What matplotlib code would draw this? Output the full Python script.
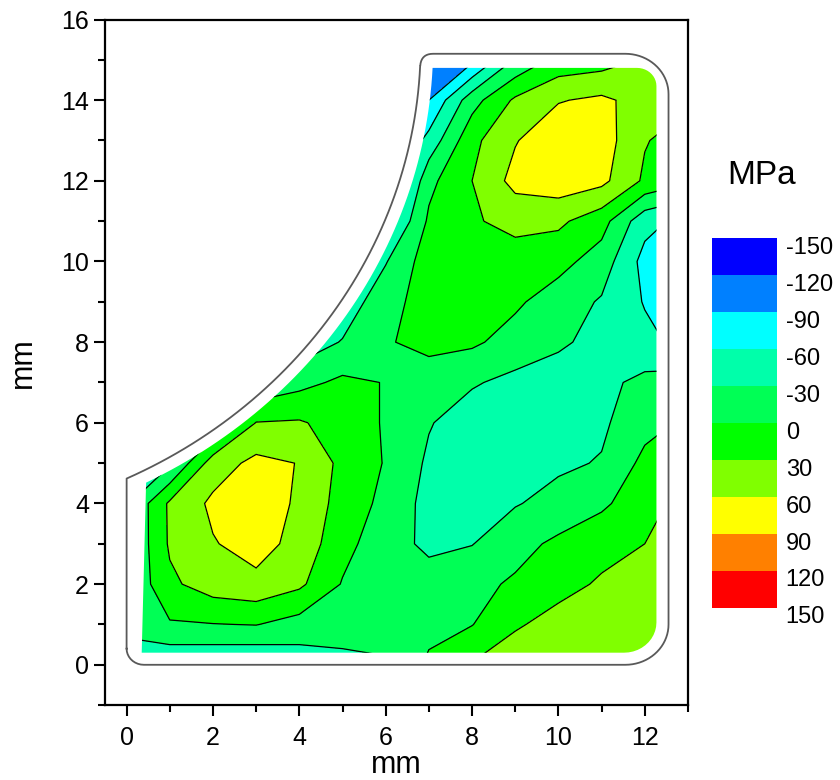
"""
Residual stress map of the fillet section, drawn as a filled contour plot.
"""

# Third party import
import numpy as np
import matplotlib
matplotlib.use("Agg")
import matplotlib.pyplot as plt
from matplotlib.patches import Polygon
from matplotlib.colors import ListedColormap, BoundaryNorm
from matplotlib.cm import ScalarMappable
from matplotlib.ticker import MultipleLocator
from matplotlib.transforms import ScaledTranslation


# Measurement grid (mm) and stress values (MPa), one row per y position
x_mm = np.arange(0, 14)
y_mm = np.arange(0, 16)
stress_y0 = [-50, -57, -59, -61, -48, -42, -34, 6, 32, 45, 48, 50, 52, 55]
stress_y1 = [-20, -3, -1, 1, -12, -12, -16, -10, -1, 27, 39, 45, 50, 55]
stress_y2 = [-30, 24, 45, 52, 36, -2, -16, -18, -8, 4, 22, 33, 45, 50]
stress_y3 = [-35, 34, 58, 72, 50, 10, -18, -36, -31, -10, 6, 22, 30, 45]
stress_y4 = [-35, 35, 66, 78, 55, 18, -8, -40, -42, -32, -20, -6, 20, 40]
stress_y5 = [-60, -35, 45, 68, 59, 22, -2, -35, -45, -45, -35, -28, 8, 25]
stress_y6 = [-80, -60, -30, 31, 33, 18, -3, -28, -45, -48, -44, -35, -10, 5]
stress_y7 = [-90, -80, -60, -25, -9, 6, -1, -18, -27, -38, -42, -38, -22, -12]
stress_y8 = [-100, -90, -80, -70, -50, -28, -3, 10, 5, -12, -26, -38, -52, -70]
stress_y9 = [-110, -100, -95, -85, -70, -50, -10, 12, 16, 5, -15, -33, -62, -85]
stress_y10 = [-115, -110, -100, -95, -85, -65, -32, 16, 22, 18, 10, -14, -70, -90]
stress_y11 = [-120, -115, -110, -105, -100, -90, -75, 5, 27, 38, 36, 12, -50, -70]
stress_y12 = [-125, -120, -118, -115, -110, -105, -120, -8, 30, 70, 78, 68, 25, 5]
stress_y13 = [-130, -128, -125, -122, -120, -118, -110, -50, 22, 58, 82, 75, 32, 15]
stress_y14 = [-140, -138, -135, -132, -130, -128, -125, -90, -12, 35, 58, 66, 48, 35]
stress_y15 = [-149, -148, -145, -142, -140, -138, -135, -120, -97, -27, 10, 16, 33, 40]

levels = [-150, -120, -90, -60, -30, 0, 30, 60, 90, 120, 150]
level_colors = ["#0000ff", "#0080ff", "#00ffff", "#00ffaa", "#00ff55",
                "#00ff00", "#80ff00", "#ffff00", "#ff8000", "#ff0000"]

stress = np.array([stress_y0, stress_y1, stress_y2, stress_y3, stress_y4,
                   stress_y5, stress_y6, stress_y7, stress_y8, stress_y9,
                   stress_y10, stress_y11, stress_y12, stress_y13,
                   stress_y14, stress_y15], dtype=float)


def arc(cx, cy, r, a0, a1, n=60):
    """ Points on a circular arc, angles in degrees. """
    t = np.radians(np.linspace(a0, a1, n))
    return np.column_stack([cx + r * np.cos(t), cy + r * np.sin(t)])


# Fillet centre shared by the inner (measured) and outer (part) contours
cx, cy = -5.1, 15.38

# Measured area
r_in = 12.2
a_start = np.degrees(np.arctan2(4.52 - cy, 0.45 - cx))
a_end = np.degrees(np.arctan2(14.8 - cy, 7.09 - cx))
inner = np.vstack([
    [[0.35, 0.3]],
    arc(cx, cy, r_in, a_start, a_end),
    arc(11.82, 14.35, 0.45, 90, 0, 12),
    arc(11.52, 1.05, 0.75, 0, -90, 12),
])

# Part outline
r_out = 11.91
b_start = np.degrees(np.arctan2(4.62 - cy, 0.0 - cx))
b_end = np.degrees(np.arctan2(14.85 - cy, 6.80 - cx))
t = np.linspace(0, 1, 10)[:, None]
p0, p1, p2 = np.array([6.80, 14.85]), np.array([6.82, 15.15]), \
    np.array([7.1, 15.15])
corner = (1 - t) ** 2 * p0 + 2 * (1 - t) * t * p1 + t ** 2 * p2
outer = np.vstack([
    [[0.0, 0.4]],
    arc(cx, cy, r_out, b_start, b_end),
    corner,
    arc(11.55, 14.15, 1.0, 90, 0, 20),
    arc(11.55, 1.0, 1.0, 0, -90, 20),
    arc(0.4, 0.4, 0.4, -90, -180, 10),
])
outer = np.vstack([outer, outer[:1]])

plt.rcParams["font.family"] = ["Liberation Sans", "DejaVu Sans"]

fig = plt.figure(figsize=(8.4, 7.8), dpi=100)
ax = fig.add_axes([0.125, 0.096, 0.694, 0.879])

# Filled contours clipped to the measured area
cs = ax.contourf(x_mm, y_mm, stress, levels=levels, colors=level_colors)
cl = ax.contour(x_mm, y_mm, stress, levels=levels[1:-1], colors="black",
                linewidths=0.9, linestyles="solid")
clip = Polygon(inner, closed=True, transform=ax.transData,
               facecolor="none", edgecolor="none")
cs.set_clip_path(clip)
cl.set_clip_path(clip)

ax.plot(outer[:, 0], outer[:, 1], color="0.35", lw=1.3)

ax.set_xlim(-0.5, 13)
ax.set_ylim(-1, 16)
ax.set_xticks(range(0, 13, 2))
ax.set_yticks(range(0, 17, 2))
ax.xaxis.set_minor_locator(MultipleLocator(1))
ax.yaxis.set_minor_locator(MultipleLocator(1))
ax.tick_params(which="major", direction="out", length=8, width=1.5,
               labelsize=18)
ax.tick_params(axis="x", which="major", pad=7)
ax.tick_params(which="minor", direction="out", length=5, width=1.5)
for spine in ax.spines.values():
    spine.set_linewidth(1.6)
fig.text(0.472, 0.0, "mm", fontsize=22, ha="center", va="bottom")
fig.text(0.027, 0.535, "mm", fontsize=22, ha="center", va="center",
         rotation=90)

# Legend of the stress classes
cax = fig.add_axes([0.848, 0.2205, 0.0774, 0.474])
cmap = ListedColormap(level_colors)
norm = BoundaryNorm(levels, cmap.N)
cb = fig.colorbar(ScalarMappable(norm=norm, cmap=cmap), cax=cax,
                  ticks=levels)
cb.outline.set_visible(False)
cax.invert_yaxis()
cax.tick_params(length=0, labelsize=17, pad=6)
cax.set_yticklabels([str(v) for v in levels])
shift = ScaledTranslation(0, -5 / 72, fig.dpi_scale_trans)
for lab in cax.get_yticklabels():
    lab.set_transform(lab.get_transform() + shift)
fig.text(0.907, 0.775, "MPa", fontsize=24, ha="center", va="center")

fig.savefig("out.png", dpi=100)
